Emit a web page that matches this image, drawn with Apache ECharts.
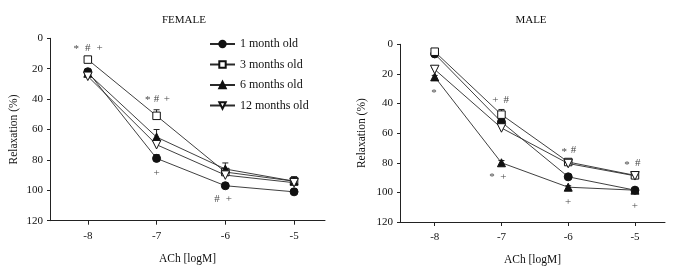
<!DOCTYPE html>
<html>
<head>
<meta charset="utf-8">
<script src="https://cdn.jsdelivr.net/npm/echarts@6/dist/echarts.min.js"></script>
<style>
  html, body { margin: 0; padding: 0; background: #fff; }
  #chart { width: 680px; height: 271px; }
</style>
</head>
<body>
<div id="chart"></div>
<script>
const xLevels = [-8, -7, -6, -5]
const seriesNames = ['1 month old', '3 months old', '6 months old', '12 months old']

// FEMALE panel (relaxation %)
const femaleOne = [22, 79, 97, 101]
const femaleThree = [14, 51, 88, 94]
const femaleSix = [23, 65, 86, 94]
const femaleTwelve = [25, 70, 90, 95]
const femaleOneErr = [1, 2.5, 1, 1]
const femaleThreeErr = [1, 4, 2, 3]
const femaleSixErr = [1, 5, 4, 2]
const femaleTwelveErr = [1, 2, 1.5, 2]

// MALE panel
const maleOne = [6.5, 52.5, 89.5, 98.5]
const maleThree = [5, 47.5, 79.5, 88.5]
const maleSix = [22, 80, 96.5, 98.5]
const maleTwelve = [17, 56.5, 80.5, 88.8]
const maleOneErr = [1, 2, 1.5, 1]
const maleThreeErr = [1, 3.5, 1.5, 1.5]
const maleSixErr = [1, 1.5, 1, 1]
const maleTwelveErr = [1, 2.5, 1.5, 1.5]

// significance marks: [x, y, text]
const femaleMarks = [
  [-8.17, 7, '*'], [-8, 6.5, '#'], [-7.83, 6.5, '+'],
  [-7.13, 40.5, '*'], [-7, 40, '#'], [-6.85, 40, '+'],
  [-7, 89, '+'],
  [-6.12, 106, '#'], [-5.95, 106, '+']
]
const maleMarks = [
  [-8.11, -2, '+'], [-7.94, -2.5, '#'],
  [-8.01, 33, '*'],
  [-7.09, 38, '+'], [-6.93, 37.5, '#'],
  [-7.14, 90, '*'], [-6.97, 89.5, '+'],
  [-6.06, 72.5, '*'], [-5.92, 71.5, '#'],
  [-6, 106.5, '+'],
  [-5.12, 81.5, '*'], [-4.96, 80.5, '#'],
  [-5, 109, '+']
]

const font = '"Liberation Serif", "DejaVu Serif", serif'
const ink = '#111'

const symbols = [
  { symbol: 'circle', size: 8, fill: '#111' },
  { symbol: 'rect', size: 7.5, fill: '#fff' },
  { symbol: 'triangle', size: 8, fill: '#111' },
  { symbol: 'path://M0,0 L10,0 L5,9 Z', size: 8.5, fill: '#fff' }
]

function pairs(vals) {
  return xLevels.map((x, i) => [x, vals[i]])
}

function lineSeries(name, vals, k, gi) {
  const s = symbols[k]
  return {
    name: name,
    type: 'line',
    xAxisIndex: gi,
    yAxisIndex: gi,
    data: pairs(vals),
    symbol: s.symbol,
    symbolSize: s.size,
    showAllSymbol: true,
    lineStyle: { color: '#2a2a2a', width: 0.9 },
    itemStyle: { color: s.fill, borderColor: '#111', borderWidth: 1 },
    z: 3 + k
  }
}

function errSeries(vals, errs, gi) {
  return {
    type: 'custom',
    xAxisIndex: gi,
    yAxisIndex: gi,
    data: xLevels.map((x, i) => [x, vals[i], errs[i]]),
    renderItem: function (params, api) {
      const p0 = api.coord([api.value(0), api.value(1)])
      const p1 = api.coord([api.value(0), api.value(1) - api.value(2)])
      return {
        type: 'group',
        children: [
          { type: 'line', shape: { x1: p0[0], y1: p0[1], x2: p1[0], y2: p1[1] }, style: { stroke: '#222', lineWidth: 1 } },
          { type: 'line', shape: { x1: p1[0] - 3, y1: p1[1], x2: p1[0] + 3, y2: p1[1] }, style: { stroke: '#222', lineWidth: 1 } }
        ]
      }
    },
    silent: true,
    z: 2
  }
}

function markSeries(marks, gi) {
  return {
    type: 'scatter',
    xAxisIndex: gi,
    yAxisIndex: gi,
    data: marks,
    symbolSize: 0,
    silent: true,
    label: {
      show: true,
      position: 'inside',
      formatter: p => p.value[2],
      fontFamily: font,
      fontSize: 11,
      color: ink
    }
  }
}

function xAxis(gi, min) {
  return {
    type: 'value',
    gridIndex: gi,
    position: 'bottom',
    min: min,
    max: -4.55,
    name: 'ACh [logM]',
    nameLocation: 'middle',
    nameGap: 32,
    nameTextStyle: { fontFamily: font, fontSize: 11.5, color: ink },
    axisLine: { onZero: false, lineStyle: { color: '#222', width: 1 } },
    axisTick: { customValues: xLevels, length: 4, lineStyle: { color: '#222' } },
    axisLabel: { customValues: xLevels, fontFamily: font, fontSize: 11, color: ink, margin: 10 },
    splitLine: { show: false }
  }
}

function yAxis(gi, gap) {
  return {
    type: 'value',
    gridIndex: gi,
    inverse: true,
    min: 0,
    max: 120,
    interval: 20,
    name: 'Relaxation (%)',
    nameLocation: 'middle',
    nameGap: gap,
    nameTextStyle: { fontFamily: font, fontSize: 11.5, color: ink },
    axisLine: { show: true, onZero: false, lineStyle: { color: '#222', width: 1 } },
    axisTick: { show: true, length: 3, lineStyle: { color: '#222' } },
    axisLabel: { fontFamily: font, fontSize: 11, color: ink, margin: 7 },
    splitLine: { show: false }
  }
}

const chart = echarts.init(document.getElementById('chart'))

const femaleSets = [femaleOne, femaleThree, femaleSix, femaleTwelve]
const femaleErrs = [femaleOneErr, femaleThreeErr, femaleSixErr, femaleTwelveErr]
const maleSets = [maleOne, maleThree, maleSix, maleTwelve]
const maleErrs = [maleOneErr, maleThreeErr, maleSixErr, maleTwelveErr]

let series = []
femaleSets.forEach((v, k) => series.push(errSeries(v, femaleErrs[k], 0)))
maleSets.forEach((v, k) => series.push(errSeries(v, maleErrs[k], 1)))
femaleSets.forEach((v, k) => series.push(lineSeries(seriesNames[k], v, k, 0)))
maleSets.forEach((v, k) => series.push(lineSeries(seriesNames[k], v, k, 1)))
series.push(markSeries(femaleMarks, 0))
series.push(markSeries(maleMarks, 1))

chart.setOption({
  animation: false,
  backgroundColor: '#fff',
  title: [
    { text: 'FEMALE', left: 179, top: 10, textAlign: 'center', textStyle: { fontFamily: font, fontSize: 11, fontWeight: 'normal', color: ink } },
    { text: 'MALE', left: 526, top: 10, textAlign: 'center', textStyle: { fontFamily: font, fontSize: 11, fontWeight: 'normal', color: ink } }
  ],
  legend: {
    data: seriesNames,
    orient: 'vertical',
    left: 209,
    top: 38,
    padding: 0,
    itemWidth: 25,
    itemHeight: 8,
    itemGap: 8.5,
    textStyle: { fontFamily: font, fontSize: 12, color: ink }
  },
  grid: [
    { left: 50, right: 355, top: 38.3, bottom: 50.3 },
    { left: 400, right: 15, top: 44.3, bottom: 48.3 }
  ],
  xAxis: [xAxis(0, -8.55), xAxis(1, -8.52)],
  yAxis: [yAxis(0, 30), yAxis(1, 32)],
  series: series
})
</script>
</body>
</html>
